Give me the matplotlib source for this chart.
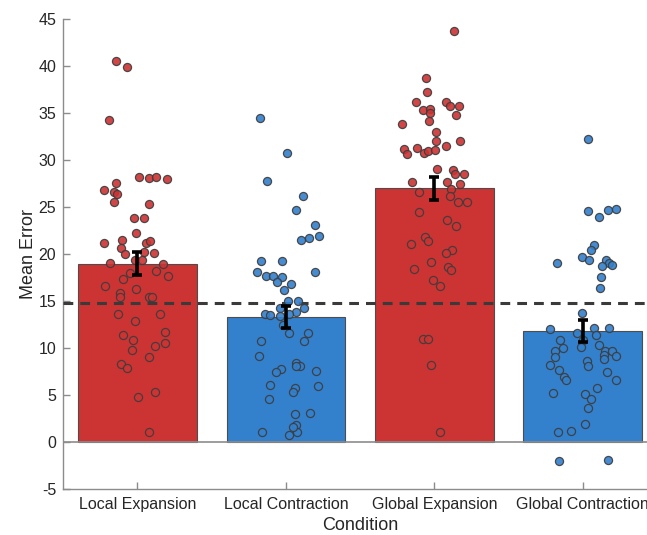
import matplotlib
matplotlib.use('Agg')
import matplotlib.pyplot as plt
import numpy as np

plt.rcParams['font.family'] = ['Liberation Sans', 'DejaVu Sans']
plt.rcParams['axes.unicode_minus'] = False

conditions = ['Local Expansion', 'Local Contraction', 'Global Expansion', 'Global Contraction']
means = [19.0, 13.3, 27.0, 11.8]
sems = [1.2, 1.15, 1.25, 1.15]
chance = 14.8
bar_colors = ['#cc3333', '#3380cc', '#cc3333', '#3380cc']

# per-subject points: horizontal jitter (relative to bar centre) and value
le_dx = [-0.142, -0.074, -0.194, 0.009, 0.076, 0.126, 0.2, -0.146, -0.225, -0.16, -0.138,
         -0.16, 0.076, -0.023, 0.047, -0.011, -0.225, -0.101, 0.06, 0.085, -0.113,
         -0.084, 0.045, 0.108, -0.185, -0.018, 0.031, 0.17, 0.126, -0.052,
         0.204, -0.097, -0.216, -0.013, -0.119, -0.119, 0.076, 0.1, -0.128, 0.155,
         -0.016, 0.186, -0.097, -0.032, 0.186, 0.121, -0.036, 0.076, -0.108, -0.07,
         0.004, 0.121, 0.078]
le_y = [40.6, 39.9, 34.3, 28.2, 28.06, 28.17, 27.95, 27.6, 26.8, 26.6, 26.4,
        25.6, 25.3, 23.8, 23.8, 22.2, 21.2, 21.5, 21.2, 21.45, 20.6,
        20.0, 20.2, 20.1, 19.1, 19.35, 19.35, 18.9, 18.2, 18.0,
        17.7, 17.4, 16.6, 16.3, 15.9, 15.4, 15.45, 15.4, 13.6, 13.6,
        12.9, 11.7, 11.4, 10.9, 10.5, 10.2, 9.8, 9.0, 8.3, 7.9,
        4.8, 5.3, 1.1]

lc_dx = [-0.175, 0.009, -0.126, 0.117, 0.065, 0.196, 0.099, 0.153, 0.223, -0.171, -0.027,
         -0.198, 0.196, -0.135, -0.086, -0.025, -0.059, 0.036, -0.011, 0.016, 0.083,
         -0.04, 0.124, 0.067, -0.142, -0.108, -0.04, 0.018, -0.022, 0.018, 0.146,
         0.121, -0.171, -0.18, 0.065, 0.094, 0.065, -0.034, -0.069, 0.202, -0.106,
         0.214, 0.061, 0.045, -0.117, 0.061, 0.164, 0.065, 0.072, -0.164, 0.018, 0.049]
lc_y = [34.5, 30.8, 27.8, 26.2, 24.7, 23.1, 21.5, 21.7, 21.95, 19.3, 19.3,
        18.15, 18.15, 17.7, 17.7, 17.6, 17.0, 16.8, 16.2, 15.0, 15.0,
        14.3, 14.3, 13.8, 13.6, 13.5, 13.45, 13.6, 12.5, 11.6, 11.6,
        10.8, 10.7, 9.2, 8.45, 8.05, 8.05, 7.75, 7.5, 7.6, 6.1,
        6.0, 5.7, 5.3, 4.6, 2.95, 3.1, 1.8, 1.07, 1.1, 0.75, 1.6]

ge_dx = [0.133, -0.054, -0.049, -0.125, 0.077, 0.108, 0.165, -0.078, -0.029, -0.027, 0.148,
         -0.034, -0.216, 0.011, 0.011, 0.175, -0.207, -0.182, -0.117, -0.072, -0.042,
         0.007, 0.079, 0.016, 0.124, 0.141, 0.202, -0.148, 0.088, 0.175, -0.105,
         0.113, 0.108, 0.162, 0.22, -0.103, 0.086, 0.144, -0.066, -0.045, -0.157,
         0.121, 0.081, -0.024, -0.135, 0.09, 0.115, -0.007, 0.038, -0.078, -0.042,
         -0.024, 0.038]
ge_y = [43.75, 38.75, 37.25, 36.2, 36.15, 35.8, 35.75, 35.3, 35.4, 35.0, 34.8,
        34.2, 33.8, 33.0, 32.0, 32.0, 31.15, 30.7, 31.25, 30.8, 31.0,
        31.1, 31.5, 29.1, 29.0, 28.5, 28.5, 27.7, 27.7, 27.5, 26.6,
        26.9, 26.2, 25.6, 25.5, 24.5, 23.6, 23.0, 21.85, 21.4, 21.05,
        20.45, 20.1, 19.2, 18.4, 18.6, 18.3, 17.2, 16.6, 10.95, 10.95,
        8.2, 1.07]

gc_dx = [0.038, 0.038, 0.11, 0.171, 0.223, 0.077, 0.054, -0.004, 0.041, -0.172, 0.158,
         0.176, 0.196, 0.133, 0.122, 0.115, -0.002, -0.218, -0.04, 0.077, 0.18,
         -0.154, 0.001, 0.086, -0.132, -0.184, -0.011, 0.109, -0.188, 0.151, 0.14,
         0.196, 0.223, 0.144, 0.03, 0.038, -0.222, -0.157, 0.163, -0.123, -0.11,
         0.223, 0.096, -0.2, 0.018, 0.054, 0.036, 0.014, -0.168, -0.08, -0.159, 0.167]
gc_y = [32.3, 24.6, 24.0, 24.7, 24.8, 21.0, 20.45, 19.65, 19.4, 19.1, 19.35,
        19.1, 18.8, 18.7, 17.55, 16.35, 13.75, 12.0, 11.6, 12.1, 12.1,
        10.85, 10.9, 11.4, 10.05, 9.7, 10.1, 10.35, 9.1, 9.7, 9.25,
        9.65, 9.2, 8.8, 8.65, 8.05, 8.15, 7.7, 7.45, 6.9, 6.6,
        6.6, 5.8, 5.2, 5.15, 4.55, 3.6, 1.9, 1.07, 1.2, -2.05, -1.9]

points_dx = [le_dx, lc_dx, ge_dx, gc_dx]
points_y = [le_y, lc_y, ge_y, gc_y]

fig = plt.figure(figsize=(6.47, 5.35), dpi=100)
# axes run past the right edge of the figure, as in the original export
ax = fig.add_axes([0.0978, 0.086, 0.9176, 0.878])

pos = np.arange(1, len(conditions) + 1)
ax.bar(pos, means, width=0.8, color=bar_colors, edgecolor='#4d4d4d', linewidth=0.8, zorder=2)
ax.axhline(0, color='#8c8c8c', lw=1.2, zorder=2.5)
ax.axhline(chance, color='#3a3a3a', lw=2.2, dashes=(3.2, 2.3), zorder=3)

for i in range(len(conditions)):
    xs = pos[i] + np.array(points_dx[i])
    ax.scatter(xs, points_y[i], s=34, color=bar_colors[i], edgecolors='#3c3c3c',
               linewidths=0.9, alpha=0.9, zorder=4)

ax.errorbar(pos, means, yerr=sems, fmt='none', ecolor='black', elinewidth=2.6,
            capsize=3.4, capthick=2.6, zorder=5)

ax.set_xlim(0.5, 4.5)
ax.set_ylim(-5, 45)
ax.set_yticks(np.arange(-5, 46, 5))
ax.set_xticks(pos)
ax.set_xticklabels(conditions)

for s in ['top', 'right']:
    ax.spines[s].set_visible(False)
for s in ['left', 'bottom']:
    ax.spines[s].set_color('#8c8c8c')
    ax.spines[s].set_linewidth(1.0)
ax.tick_params(direction='in', length=5, width=1, color='#8c8c8c',
               labelsize=11.5, labelcolor='#262626')
ax.tick_params(axis='x', pad=6)
ax.tick_params(axis='y', pad=5)

ax.set_ylabel('Mean Error', fontsize=13, color='#262626', labelpad=1)
ax.set_xlabel('Condition', fontsize=13, color='#262626', labelpad=3.5)

plt.savefig('out.png', dpi=100)
